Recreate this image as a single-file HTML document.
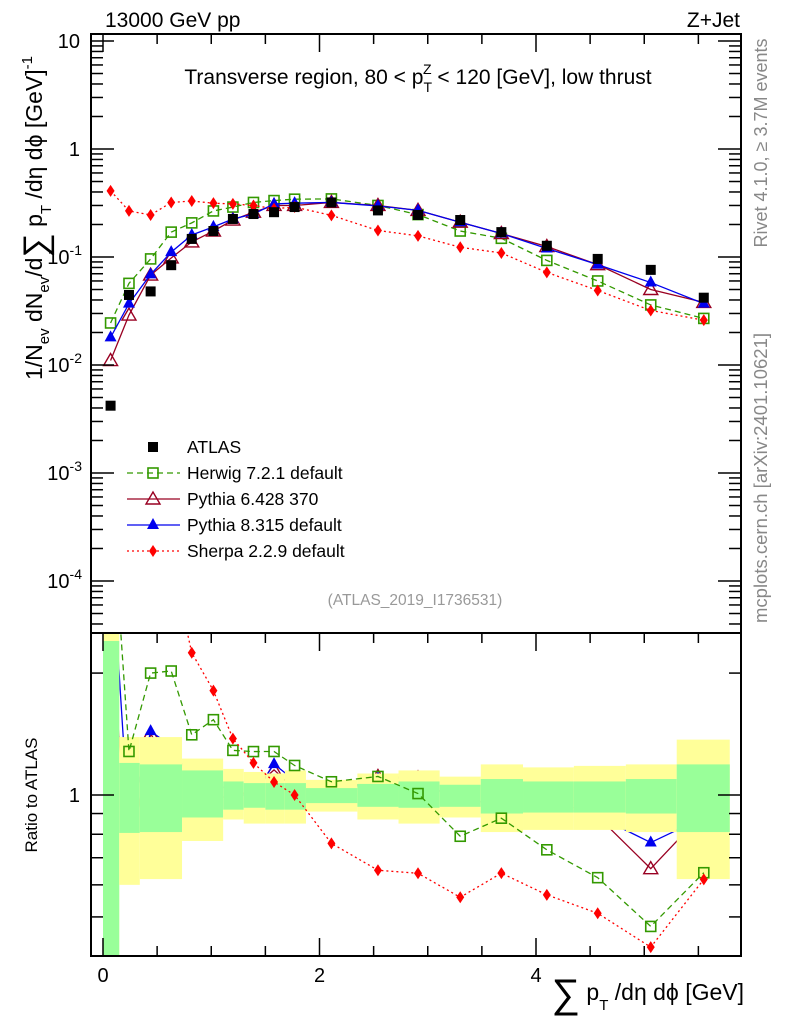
<!DOCTYPE html>
<html><head><meta charset="utf-8"><style>
body{margin:0;background:#fff;}
svg{display:block;font-family:"Liberation Sans",sans-serif;}
</style></head><body>
<svg id="chart" width="786" height="1024" viewBox="0 0 786 1024" xmlns="http://www.w3.org/2000/svg">
<g id="under"></g>
<g id="bands"></g>
<g id="marks"></g>
<g id="axes"></g>
<text x="105" y="27" font-size="21">13000 GeV pp</text>
<text x="740" y="27" font-size="21" text-anchor="end">Z+Jet</text>
<text x="418" y="84" font-size="21" text-anchor="middle">Transverse region, 80 &lt; p<tspan font-size="14" dy="8">T</tspan><tspan font-size="14" dx="-9" dy="-18">Z</tspan><tspan dy="10"> &lt; 120 [GeV], low thrust</tspan></text>
<text transform="translate(42,218) rotate(-90)" font-size="23" text-anchor="middle">1/N<tspan font-size="15" dy="7">ev</tspan><tspan dy="-7"> dN</tspan><tspan font-size="15" dy="7">ev</tspan><tspan dy="-7">/d</tspan><tspan font-size="34" dy="5">∑</tspan><tspan dy="-5"> p</tspan><tspan font-size="15" dy="9">T</tspan><tspan dy="-9"> /dη dϕ  [GeV]</tspan><tspan font-size="15" dy="-10">-1</tspan></text>
<text transform="translate(767,143) rotate(-90)" font-size="18" fill="#888" text-anchor="middle">Rivet 4.1.0, ≥ 3.7M events</text>
<text transform="translate(767,478) rotate(-90)" font-size="18.5" fill="#888" text-anchor="middle">mcplots.cern.ch [arXiv:2401.10621]</text>
<text x="415" y="605" font-size="15.5" fill="#999" text-anchor="middle">(ATLAS_2019_I1736531)</text>
<text transform="translate(37,795) rotate(-90)" font-size="17" text-anchor="middle">Ratio to ATLAS</text>
<text x="744" y="1000" font-size="23" text-anchor="end"><tspan font-size="40" dy="7">∑</tspan><tspan dy="-7"> p</tspan><tspan font-size="15" dy="10">T</tspan><tspan dy="-10"> /dη dϕ [GeV]</tspan></text>
<g id="legend"></g>
</svg>
<script>
const xs = [0.07,0.24,0.44,0.63,0.82,1.02,1.2,1.39,1.58,1.77,2.11,2.54,2.91,3.3,3.68,4.1,4.57,5.06,5.55];
const atlas = [0.0042,0.0445,0.048,0.084,0.147,0.174,0.225,0.25,0.26,0.29,0.32,0.27,0.245,0.22,0.17,0.127,0.096,0.076,0.042];
const herwig = [0.0245,0.057,0.096,0.17,0.207,0.267,0.29,0.32,0.333,0.343,0.345,0.30,0.247,0.174,0.149,0.093,0.06,0.036,0.027];
const pythia6 = [0.011,0.029,0.068,0.098,0.138,0.174,0.22,0.26,0.30,0.30,0.32,0.30,0.27,0.21,0.165,0.125,0.085,0.05,0.038];
const pythia8 = [0.018,0.037,0.069,0.111,0.16,0.19,0.225,0.25,0.31,0.315,0.32,0.297,0.27,0.21,0.165,0.12,0.085,0.058,0.037];
const sherpa = [0.41,0.267,0.245,0.32,0.33,0.315,0.31,0.30,0.28,0.29,0.243,0.176,0.157,0.123,0.109,0.072,0.049,0.032,0.026];
const binEdges = [0,0.15,0.34,0.73,1.11,1.3,1.5,1.68,1.875,2.35,2.73,3.11,3.49,3.88,4.35,4.83,5.3,5.79];
const greenUp = [2.4,1.2,1.19,1.15,1.08,1.07,1.07,1.07,1.04,1.065,1.08,1.06,1.095,1.08,1.08,1.095,1.19];
const greenDn = [0.39,0.806,0.81,0.88,0.92,0.93,0.92,0.92,0.955,0.935,0.93,0.935,0.90,0.905,0.905,0.90,0.81];
const yellowUp = [2.6,1.39,1.39,1.23,1.16,1.14,1.13,1.15,1.09,1.13,1.15,1.11,1.19,1.17,1.18,1.19,1.37];
const yellowDn = [0.39,0.60,0.62,0.77,0.87,0.85,0.85,0.85,0.91,0.87,0.85,0.88,0.81,0.82,0.82,0.81,0.62];
const xTicks = [0,2,4];

const NS="http://www.w3.org/2000/svg";
const L=91,R=741,T=34,MB=633,RB=956;
const X=v=>103+v*108.25;
const Y=v=>149-Math.log10(v)*108;
const YR=v=>795-Math.log10(v)*405;
function mk(tag,attrs,parent){const e=document.createElementNS(NS,tag);for(const k in attrs)e.setAttribute(k,attrs[k]);parent.appendChild(e);return e;}
const svg=document.getElementById('chart');
const under=document.getElementById('under'),bands=document.getElementById('bands'),marks=document.getElementById('marks'),axes=document.getElementById('axes'),legend=document.getElementById('legend');
const clipR=mk('clipPath',{id:'cr'},svg);mk('rect',{x:L,y:MB,width:R-L,height:RB-MB},clipR);
const clipM=mk('clipPath',{id:'cm'},svg);mk('rect',{x:L,y:T,width:R-L,height:MB-T},clipM);
bands.setAttribute('clip-path','url(#cr)');
under.setAttribute('clip-path','url(#cr)');
for(let i=0;i<binEdges.length-1;i++){
  const x0=X(binEdges[i]),x1=X(binEdges[i+1]);
  let r=mk('rect',{x:x0,y:YR(yellowUp[i]),width:x1-x0,height:YR(yellowDn[i])-YR(yellowUp[i]),fill:'#ffff99'},bands);
  
  
  r=mk('rect',{x:x0,y:YR(greenUp[i]),width:x1-x0,height:YR(greenDn[i])-YR(greenUp[i]),fill:'#99ff99'},bands);
  
  
}
function marker(type,cx,cy,color,g){
  let e;
  if(type==='sq')e=mk('rect',{x:cx-5,y:cy-5,width:10,height:10,fill:'#000'},g);
  else if(type==='osq')e=mk('rect',{x:cx-5,y:cy-5,width:10,height:10,fill:'none',stroke:color,'stroke-width':1.6},g);
  else if(type==='otri')e=mk('polygon',{points:`${cx},${cy-7} ${cx-7},${cy+5} ${cx+7},${cy+5}`,fill:'none',stroke:color,'stroke-width':1.4},g);
  else if(type==='tri')e=mk('polygon',{points:`${cx},${cy-7} ${cx-6},${cy+4} ${cx+6},${cy+4}`,fill:color},g);
  else e=mk('polygon',{points:`${cx},${cy-6} ${cx-4},${cy} ${cx},${cy+6} ${cx+4},${cy}`,fill:color},g);
  return e;
}
const series=[
 {name:'herwig',vals:herwig,color:'#339900',dash:'6,4',m:'osq',label:'Herwig 7.2.1 default',top:true},
 {name:'pythia6',vals:pythia6,color:'#990022',dash:'',m:'otri',label:'Pythia 6.428 370',top:false},
 {name:'pythia8',vals:pythia8,color:'#0000ee',dash:'',m:'tri',label:'Pythia 8.315 default',top:false},
 {name:'sherpa',vals:sherpa,color:'#ff0000',dash:'2,3',m:'dia',label:'Sherpa 2.2.9 default',top:true}
];
const gm=mk('g',{'clip-path':'url(#cm)'},marks);
const grTop=mk('g',{'clip-path':'url(#cr)'},marks);
series.forEach(s=>{
  const gr=s.top?grTop:under;
  const pts=xs.map((x,i)=>X(x)+','+Y(s.vals[i])).join(' ');
  let l=mk('polyline',{points:pts,fill:'none',stroke:s.color,'stroke-width':1.3,'stroke-dasharray':s.dash},gm);
  
  
  const rp=xs.map((x,i)=>X(x)+','+YR(s.vals[i]/atlas[i])).join(' ');
  l=mk('polyline',{points:rp,fill:'none',stroke:s.color,'stroke-width':1.3,'stroke-dasharray':s.dash},gr);
  
  
  xs.forEach((x,i)=>{
    let e=marker(s.m,X(x),Y(s.vals[i]),s.color,gm);
    
    
    e=marker(s.m,X(x),YR(s.vals[i]/atlas[i]),s.color,gr);
    
    
  });
});
xs.forEach((x,i)=>{
  const e=marker('sq',X(x),Y(atlas[i]),'#000',gm);
  
  
});
mk('rect',{x:L,y:T,width:R-L,height:MB-T,fill:'none',stroke:'#000','stroke-width':2},axes);
mk('rect',{x:L,y:MB,width:R-L,height:RB-MB,fill:'none',stroke:'#000','stroke-width':2},axes);
for(let v=0;v<=5.5;v+=0.5){
  const major=Math.abs(v%2)<1e-9;const len=major?18:10;const x=X(v);
  mk('line',{x1:x,x2:x,y1:T,y2:T+len,stroke:'#000','stroke-width':1.5},axes);
  mk('line',{x1:x,x2:x,y1:MB,y2:MB+len,stroke:'#000','stroke-width':1.5},axes);
  mk('line',{x1:x,x2:x,y1:RB,y2:RB-len,stroke:'#000','stroke-width':1.5},axes);
}
xTicks.forEach(v=>{
  const t=mk('text',{x:X(v),y:982,'font-size':20,'text-anchor':'middle'},axes);t.textContent=v;
  
  
});
for(let d=-5;d<=1;d++){
  for(let m=1;m<10;m++){
    const v=m*Math.pow(10,d);const y=Y(v);if(y<T||y>MB)continue;
    const len=m===1?23:12;
    mk('line',{x1:L,x2:L+len,y1:y,y2:y,stroke:'#000','stroke-width':1.5},axes);
    mk('line',{x1:R,x2:R-len,y1:y,y2:y,stroke:'#000','stroke-width':1.5},axes);
  }
}
[[10,'10'],[1,'1']].forEach(([v,s])=>{const t=mk('text',{x:80,y:Y(v)+7,'font-size':20,'text-anchor':'end'},axes);t.textContent=s;
  
  });
[-1,-2,-3,-4].forEach(d=>{const t=mk('text',{x:82,y:Y(Math.pow(10,d))+7,'font-size':20,'text-anchor':'end'},axes);
  t.innerHTML='10<tspan font-size="14" dy="-9">'+d+'</tspan>';
  
  });
[0.4,0.5,0.6,0.7,0.8,0.9,1,2].forEach(v=>{const y=YR(v);const len=v===1?23:12;
  mk('line',{x1:L,x2:L+len,y1:y,y2:y,stroke:'#000','stroke-width':1.5},axes);
  mk('line',{x1:R,x2:R-len,y1:y,y2:y,stroke:'#000','stroke-width':1.5},axes);});
{const t=mk('text',{x:80,y:YR(1)+7,'font-size':20,'text-anchor':'end'},axes);t.textContent='1';
  
  }
const leg=[{m:'sq',color:'#000',dash:null,label:'ATLAS'}].concat(series);
leg.forEach((s,i)=>{
  const y=447+i*26;
  const g=mk('g',{},legend);
  
  
  if(s.dash!==null)mk('line',{x1:127,x2:180,y1:y,y2:y,stroke:s.color,'stroke-width':1.3,'stroke-dasharray':s.dash},g);
  marker(s.m,153,y,s.color,g);
  const t=mk('text',{x:187,y:y+6,'font-size':17.5},g);t.textContent=s.label;
});
</script>
</body></html>
